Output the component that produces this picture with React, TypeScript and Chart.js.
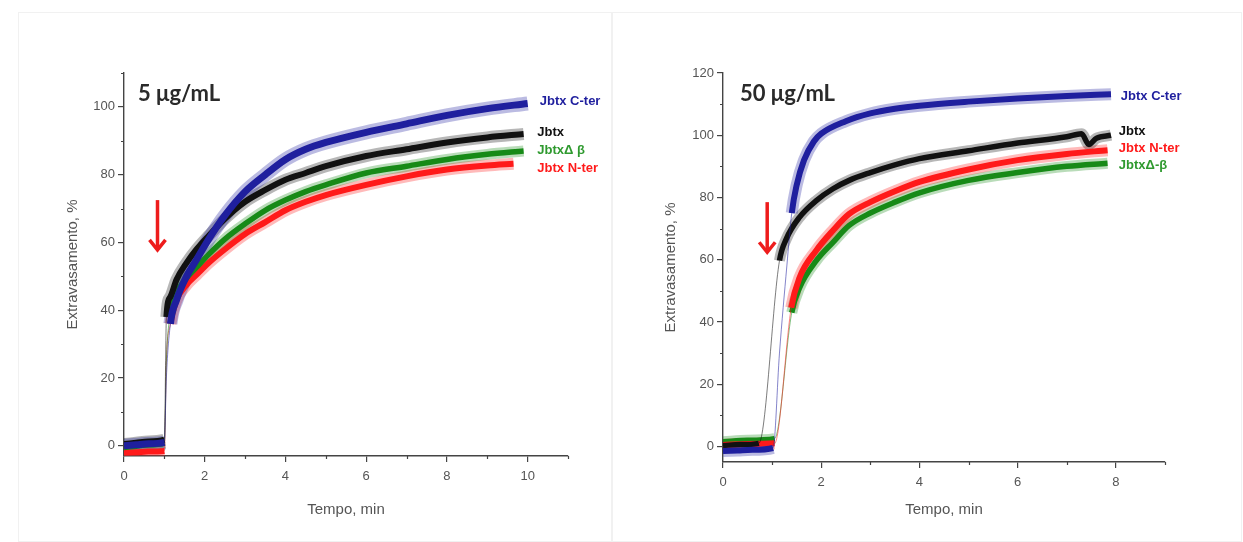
import React, { useEffect, useRef } from "react";
import { Chart, registerables } from "chart.js";

Chart.register(...registerables);

// ---------- Panel A: 5 µg/mL ----------
const A_TITLE = "5 μg/mL";
const A_X_MAX = 11;
const A_Y_MIN = -3;
const A_Y_MAX = 110;

const A_CTER_T = [0, 0.3, 0.6, 1.0, 1.05, 1.15, 1.3, 1.55, 1.8, 2.1, 2.5, 3.0, 3.5, 4.0, 4.5, 5.0, 6.0, 7.0, 8.0, 9.0, 10.0];
const A_CTER_V = [0, 0.3, 0.6, 1.0, 20, 36, 43, 50, 55, 61, 68, 75, 80, 84.5, 87.5, 89.5, 92.5, 95, 97.5, 99.5, 101];

const A_JBTX_T = [0, 0.3, 0.6, 1.0, 1.05, 1.15, 1.3, 1.55, 1.8, 2.1, 2.5, 3.0, 3.5, 4.0, 4.5, 5.0, 6.0, 7.0, 8.0, 9.0, 9.9];
const A_JBTX_V = [0.5, 0.9, 1.3, 1.8, 38, 44, 49, 54, 58, 62, 67, 72, 75.5, 78.5, 80.5, 82.5, 85.5, 87.5, 89.5, 91, 92];

const A_DBETA_T = [0, 0.3, 0.6, 1.0, 1.05, 1.15, 1.3, 1.55, 1.8, 2.1, 2.5, 3.0, 3.5, 4.0, 4.5, 5.0, 6.0, 7.0, 8.0, 9.0, 9.9];
const A_DBETA_V = [-0.5, -0.1, 0.3, 0.8, 25, 39, 45, 49.5, 52.7, 56.5, 61, 65.5, 69.5, 72.5, 75, 77, 80.5, 82.5, 84.5, 86, 87];

const A_NTER_T = [0, 0.3, 0.6, 1.0, 1.05, 1.15, 1.3, 1.55, 1.8, 2.1, 2.5, 3.0, 3.5, 4.0, 4.5, 5.0, 6.0, 7.0, 8.0, 9.0, 9.65];
const A_NTER_V = [-2, -1.9, -1.7, -1.5, 25, 36, 43, 47.5, 50.5, 54, 58, 62.5, 66, 69.5, 72, 74, 77, 79.5, 81.5, 82.7, 83.2];

const A_LABELS = ["Jbtx C-ter", "Jbtx", "JbtxΔ β", "Jbtx N-ter"];
const A_LABEL_X = [10.3, 10.24, 10.24, 10.24];
const A_LABEL_Y = [101.5, 92.4, 87.1, 81.8];
const A_ARROW = { x: 0.83, yFrom: 72.5, yTo: 57.8 };

// ---------- Panel B: 50 µg/mL ----------
const B_TITLE = "50 μg/mL";
const B_X_MAX = 9;
const B_Y_MIN = -5;
const B_Y_MAX = 120;

const B_CTER_T = [0, 0.3, 0.6, 1.02, 1.15, 1.3, 1.4, 1.5, 1.65, 1.85, 2.0, 2.5, 3.0, 3.5, 4.0, 5.0, 6.0, 7.0, 7.9];
const B_CTER_V = [-1.5, -1.3, -1.1, -0.5, 30, 58, 75, 84, 92, 98, 100.5, 104.5, 107, 108.5, 109.5, 110.8, 111.8, 112.6, 113.2];

const B_JBTX_T = [0, 0.35, 0.73, 1.15, 1.29, 1.56, 1.9, 2.24, 2.57, 3.0, 3.5, 4.0, 5.0, 6.0, 7.0, 7.3, 7.45, 7.6, 7.9];
const B_JBTX_V = [0.3, 0.6, 1, 59.7, 66.7, 73.7, 79, 82.8, 85.5, 88, 90.5, 92.5, 95, 97.5, 99.5, 100.5, 97, 99, 100];

const B_NTER_T = [0, 0.5, 1.05, 1.39, 1.56, 1.9, 2.24, 2.57, 3.0, 3.5, 4.0, 5.0, 6.0, 7.0, 7.83];
const B_NTER_V = [0.5, 0.8, 1, 44.6, 54.3, 63, 69.4, 74.7, 78.5, 82, 85, 89, 92, 94, 95.2];

const B_DBETA_T = [0, 0.5, 1.05, 1.4, 1.56, 1.9, 2.24, 2.57, 3.0, 3.5, 4.0, 5.0, 6.0, 7.0, 7.83];
const B_DBETA_V = [1.5, 2, 2.5, 43, 51, 59.7, 65.6, 71, 75, 78.5, 81.5, 85.5, 88, 90, 91];

const B_LABELS = ["Jbtx C-ter", "Jbtx", "Jbtx N-ter", "JbtxΔ-β"];
const B_LABEL_X = [8.1, 8.06, 8.06, 8.06];
const B_LABEL_Y = [112.6, 101.3, 95.8, 90.3];
const B_ARROW = { x: 0.9, yFrom: 78.5, yTo: 62.4 };

// ---------- styles ----------
const C_BLUE = "#1f1f9e";
const C_BLACK = "#111111";
const C_GREEN = "#178a17";
const C_RED = "#ff1a1a";
const LABEL_GREEN = "#2f9a2f";
const AXIS = "#444444";
const TEXT = "#555555";
const SANS = '"Liberation Sans", Arial, Helvetica, sans-serif';

function rgba(hex: string, a: number) {
  const n = parseInt(hex.slice(1), 16);
  return `rgba(${(n >> 16) & 255},${(n >> 8) & 255},${n & 255},${a})`;
}

type Series = { t: number[]; v: number[]; color: string; w: number };

function steep(ctx: any) {
  const a = ctx.p0.parsed;
  const b = ctx.p1.parsed;
  return Math.abs((b.y - a.y) / (b.x - a.x)) > 100;
}

function buildDatasets(series: Series[]) {
  const out: any[] = [];
  series.forEach((s, i) => {
    const pts = s.t.map((t, k) => ({ x: t, y: s.v[k] }));
    const halo = rgba(s.color, 0.3);
    out.push({
      data: pts,
      borderColor: halo,
      borderWidth: s.w * 2,
      pointRadius: 0,
      fill: false,
      cubicInterpolationMode: "monotone",
      order: 20 + i,
      segment: {
        borderColor: (c: any) => (steep(c) ? "rgba(0,0,0,0)" : halo),
      },
    });
    out.push({
      data: pts,
      borderColor: s.color,
      borderWidth: s.w,
      pointRadius: 0,
      fill: false,
      cubicInterpolationMode: "monotone",
      order: 10 + i,
      segment: {
        borderColor: (c: any) => (steep(c) ? rgba(s.color, 0.55) : s.color),
        borderWidth: (c: any) => (steep(c) ? 1 : s.w),
      },
    });
  });
  return out;
}

const annotPlugin = {
  id: "annot",
  afterDraw(chart: any, _args: any, opts: any) {
    const { ctx, chartArea } = chart;
    const x = chart.scales.x;
    const y = chart.scales.y;
    ctx.save();
    // minor ticks (shorter than the major ones drawn by the axes)
    ctx.strokeStyle = AXIS;
    ctx.lineWidth = 1.2;
    ctx.beginPath();
    x.ticks.forEach((t: any) => {
      if (t.value % opts.xMajor !== 0) {
        const px = Math.round(x.getPixelForValue(t.value)) + 0.5;
        ctx.moveTo(px, chartArea.bottom);
        ctx.lineTo(px, chartArea.bottom + 3);
      }
    });
    y.ticks.forEach((t: any) => {
      if (t.value % opts.yMajor !== 0) {
        const py = Math.round(y.getPixelForValue(t.value)) + 0.5;
        ctx.moveTo(chartArea.left, py);
        ctx.lineTo(chartArea.left - 3, py);
      }
    });
    ctx.stroke();
    // title
    ctx.font = `bold 22px Lato, "Open Sans", sans-serif`;
    ctx.fillStyle = "#2a2a2a";
    ctx.textBaseline = "alphabetic";
    ctx.textAlign = "left";
    ctx.fillText(opts.title, chartArea.left + opts.titleDx, chartArea.top + 28);
    // series labels
    ctx.font = `bold 13px ${SANS}`;
    ctx.textBaseline = "middle";
    opts.labels.forEach((txt: string, i: number) => {
      ctx.fillStyle = opts.labelColors[i];
      ctx.fillText(txt, x.getPixelForValue(opts.labelX[i]), y.getPixelForValue(opts.labelY[i]));
    });
    // arrow
    const ax = x.getPixelForValue(opts.arrow.x);
    const y0 = y.getPixelForValue(opts.arrow.yFrom);
    const y1 = y.getPixelForValue(opts.arrow.yTo);
    ctx.strokeStyle = "#ee1c1c";
    ctx.lineWidth = 3.5;
    ctx.lineCap = "butt";
    ctx.beginPath();
    ctx.moveTo(ax, y0);
    ctx.lineTo(ax, y1 - 2);
    ctx.stroke();
    ctx.lineJoin = "miter";
    ctx.beginPath();
    ctx.moveTo(ax - 8, y1 - 10);
    ctx.lineTo(ax, y1);
    ctx.lineTo(ax + 8, y1 - 10);
    ctx.stroke();
    ctx.restore();
  },
};

type PanelCfg = {
  series: Series[];
  xMax: number;
  yMin: number;
  yMax: number;
  yWidth: number;
  padRight: number;
  padBottom: number;
  yTitlePad: number;
  xTitlePad: number;
  annot: any;
};

function buildConfig(cfg: PanelCfg): any {
  return {
    type: "line",
    data: { datasets: buildDatasets(cfg.series) },
    plugins: [annotPlugin],
    options: {
      animation: false,
      responsive: false,
      maintainAspectRatio: false,
      layout: { padding: { left: 0, right: cfg.padRight, top: 73, bottom: cfg.padBottom } },
      plugins: {
        legend: { display: false },
        tooltip: { enabled: false },
        annot: cfg.annot,
      },
      scales: {
        x: {
          type: "linear",
          min: 0,
          max: cfg.xMax,
          afterFit: (s: any) => {
            s.height = 70;
          },
          border: { display: true, color: AXIS, width: 1.4 },
          grid: {
            drawOnChartArea: false,
            drawTicks: true,
            tickLength: 6,
            lineWidth: 1.2,
            tickColor: (c: any) => (c.tick && c.tick.value % 2 === 0 ? AXIS : "rgba(0,0,0,0)"),
          },
          ticks: {
            stepSize: 1,
            autoSkip: false,
            maxRotation: 0,
            includeBounds: false,
            padding: 7,
            color: TEXT,
            font: { family: SANS, size: 13 },
            callback: (v: number) => (v % 2 === 0 ? String(v) : ""),
          },
          title: {
            display: true,
            text: "Tempo, min",
            color: TEXT,
            font: { family: SANS, size: 15 },
            padding: { top: 0, bottom: cfg.xTitlePad },
          },
        },
        y: {
          type: "linear",
          min: cfg.yMin,
          max: cfg.yMax,
          afterFit: (s: any) => {
            s.width = cfg.yWidth;
          },
          border: { display: true, color: AXIS, width: 1.4 },
          grid: {
            drawOnChartArea: false,
            drawTicks: true,
            tickLength: 6,
            lineWidth: 1.2,
            tickColor: (c: any) => (c.tick && c.tick.value % 20 === 0 ? AXIS : "rgba(0,0,0,0)"),
          },
          ticks: {
            stepSize: 10,
            autoSkip: false,
            includeBounds: false,
            padding: 3,
            color: TEXT,
            font: { family: SANS, size: 13 },
            callback: (v: number) => (v % 20 === 0 ? String(v) : ""),
          },
          title: {
            display: true,
            text: "Extravasamento, %",
            color: TEXT,
            font: { family: SANS, size: 15 },
            padding: { top: cfg.yTitlePad, bottom: 0 },
          },
        },
      },
    },
  };
}

const PANEL_A: PanelCfg = {
  series: [
    { t: A_CTER_T, v: A_CTER_V, color: C_BLUE, w: 7 },
    { t: A_JBTX_T, v: A_JBTX_V, color: C_BLACK, w: 6 },
    { t: A_DBETA_T, v: A_DBETA_V, color: C_GREEN, w: 5.5 },
    { t: A_NTER_T, v: A_NTER_V, color: C_RED, w: 6 },
  ],
  xMax: A_X_MAX,
  yMin: A_Y_MIN,
  yMax: A_Y_MAX,
  yWidth: 124,
  padRight: 612 - 568,
  padBottom: 542 - 456 - 70,
  yTitlePad: 64,
  xTitlePad: 7,
  annot: {
    xMajor: 2,
    yMajor: 20,
    title: A_TITLE,
    titleDx: 14,
    labels: A_LABELS,
    labelX: A_LABEL_X,
    labelY: A_LABEL_Y,
    labelColors: [C_BLUE, C_BLACK, LABEL_GREEN, C_RED],
    arrow: A_ARROW,
  },
};

const PANEL_B: PanelCfg = {
  series: [
    { t: B_CTER_T, v: B_CTER_V, color: C_BLUE, w: 6 },
    { t: B_JBTX_T, v: B_JBTX_V, color: C_BLACK, w: 5.5 },
    { t: B_NTER_T, v: B_NTER_V, color: C_RED, w: 6 },
    { t: B_DBETA_T, v: B_DBETA_V, color: C_GREEN, w: 5.5 },
  ],
  xMax: B_X_MAX,
  yMin: B_Y_MIN,
  yMax: B_Y_MAX,
  yWidth: 111,
  padRight: 631 - 553,
  padBottom: 542 - 462 - 70,
  yTitlePad: 50,
  xTitlePad: 13,
  annot: {
    xMajor: 2,
    yMajor: 20,
    title: B_TITLE,
    titleDx: 17,
    labels: B_LABELS,
    labelX: B_LABEL_X,
    labelY: B_LABEL_Y,
    labelColors: [C_BLUE, C_BLACK, C_RED, LABEL_GREEN],
    arrow: B_ARROW,
  },
};

function Panel({ cfg, left, width }: { cfg: PanelCfg; left: number; width: number }) {
  const ref = useRef<HTMLCanvasElement>(null);
  useEffect(() => {
    const chart = new Chart(ref.current as HTMLCanvasElement, buildConfig(cfg));
    return () => chart.destroy();
  }, [cfg]);
  return (
    <canvas
      ref={ref}
      width={width}
      height={542}
      style={{ position: "absolute", left, top: 0, width, height: 542, display: "block" }}
    />
  );
}

export default function App() {
  return (
    <div style={{ position: "fixed", left: 0, top: 0, width: 1243, height: 542, background: "#ffffff", overflow: "hidden" }}>
      <div style={{ position: "absolute", left: 18, top: 12, width: 592, height: 528, border: "1px solid #f1f1f1" }} />
      <div style={{ position: "absolute", left: 612, top: 12, width: 628, height: 528, border: "1px solid #f1f1f1" }} />
      <Panel cfg={PANEL_A} left={0} width={612} />
      <Panel cfg={PANEL_B} left={612} width={631} />
    </div>
  );
}
